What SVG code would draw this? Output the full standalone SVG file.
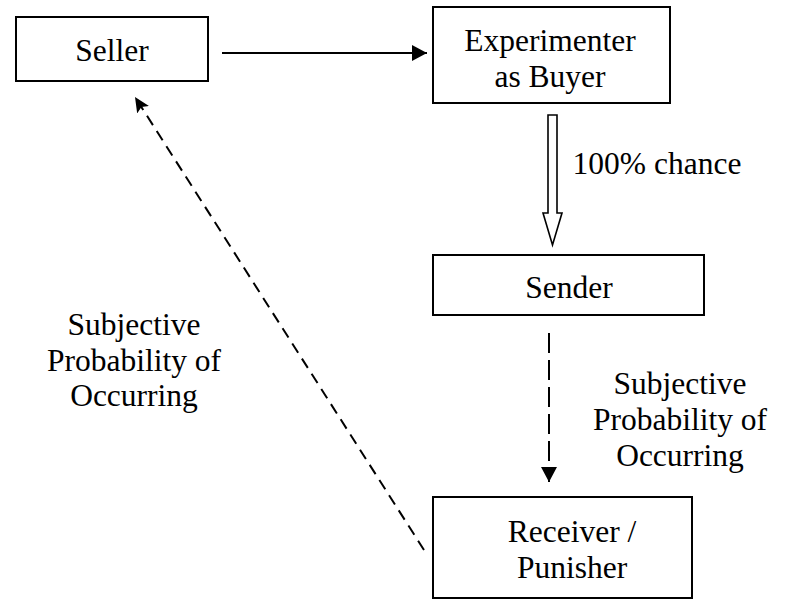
<svg xmlns="http://www.w3.org/2000/svg" width="786" height="600" viewBox="0 0 786 600">
<defs>
<style>
.box{fill:#fff;stroke:#000;stroke-width:2}
.t{font-family:'Liberation Serif',Tinos,'Times New Roman',Times,'DejaVu Serif','Noto Serif',serif;font-size:31.5px;fill:#000;text-anchor:middle}
.ln{stroke:#000;stroke-width:2;fill:none}
.dash1{stroke-dasharray:11 7}
.dash2{stroke-dasharray:20 7}
</style>
<marker id="ah" markerUnits="userSpaceOnUse" markerWidth="16" markerHeight="14" refX="15" refY="7" orient="auto">
<path d="M0,0 L15,7 L0,14 L3,7 Z" fill="#000"/>
</marker>
<marker id="ah2" markerUnits="userSpaceOnUse" markerWidth="16" markerHeight="16" refX="15" refY="8" orient="auto">
<path d="M0,0 L15,8 L0,16 Z" fill="#000"/>
</marker>
</defs>
<rect width="786" height="600" fill="#fff"/>
<g id="connectors">
<line class="ln" x1="222" y1="53" x2="427" y2="53" marker-end="url(#ah2)"/>
<path d="M548,115 L557,115 L557,213 L562,213 L552.5,245 L543,213 L548,213 Z" fill="#fff" stroke="#000" stroke-width="1.6"/>
<line class="ln dash2" x1="549" y1="333" x2="549" y2="482" marker-end="url(#ah2)"/>
<line class="ln dash1" x1="424" y1="550" x2="135" y2="97" marker-end="url(#ah)"/>
</g>
<g id="seller">
<rect class="box" x="16" y="17" width="192" height="64"/>
<text class="t" x="112" y="61" font-family="Liberation Serif, serif">Seller</text>
</g>
<g id="experimenter">
<rect class="box" x="433" y="7" width="237" height="96"/>
<text class="t" x="550" y="51" font-family="Liberation Serif, serif">Experimenter</text>
<text class="t" x="550" y="87" font-family="Liberation Serif, serif">as Buyer</text>
</g>
<g id="sender">
<rect class="box" x="433" y="255" width="271" height="60"/>
<text class="t" x="569" y="298" font-family="Liberation Serif, serif">Sender</text>
</g>
<g id="receiver">
<rect class="box" x="433" y="497" width="259" height="101"/>
<text class="t" x="572" y="542" font-family="Liberation Serif, serif">Receiver /</text>
<text class="t" x="572" y="578" font-family="Liberation Serif, serif">Punisher</text>
</g>
<g id="labels">
<text class="t" x="657" y="174" font-family="Liberation Serif, serif">100% chance</text>
<text class="t" x="680" y="394" font-family="Liberation Serif, serif">Subjective</text>
<text class="t" x="680" y="430" font-family="Liberation Serif, serif">Probability of</text>
<text class="t" x="680" y="466" font-family="Liberation Serif, serif">Occurring</text>
<text class="t" x="134" y="335" font-family="Liberation Serif, serif">Subjective</text>
<text class="t" x="134" y="371" font-family="Liberation Serif, serif">Probability of</text>
<text class="t" x="134" y="406" font-family="Liberation Serif, serif">Occurring</text>
</g>
</svg>
